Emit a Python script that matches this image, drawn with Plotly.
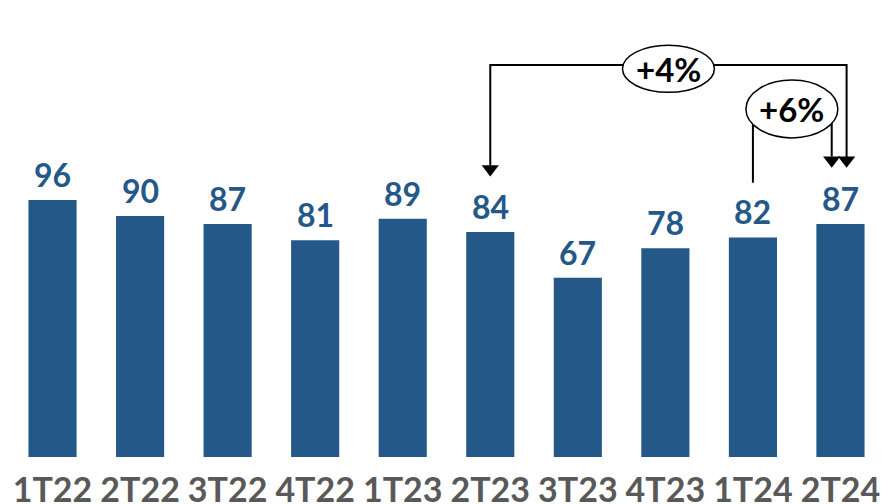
import plotly.graph_objects as go

categories = ["1T22", "2T22", "3T22", "4T22", "1T23", "2T23", "3T23", "4T23", "1T24", "2T24"]
values = [96, 90, 87, 81, 89, 84, 67, 78, 82, 87]
growth_labels = ["+4%", "+6%"]

BAR = "#245889"
GRAY = "#595959"
FONT = "Lato"

fig = go.Figure()
fig.add_trace(go.Bar(
    x=list(range(len(categories))), y=values, width=0.55,
    marker=dict(color=BAR, line=dict(width=0)),
    hoverinfo="skip",
))
for i, v in enumerate(values):
    fig.add_annotation(x=i, y=v, text=str(v), showarrow=False, yanchor="bottom", yshift=4,
                       font=dict(family=FONT, size=32, color=BAR, weight=700))

i_a = categories.index("2T23")
i_b = categories.index("1T24")
i_c = categories.index("2T24")
line = dict(color="black", width=2)

# +4% bracket
y_top4 = 146.4
tip4 = 105.0
xr4 = i_c + 0.07
fig.add_shape(type="path", path=f"M {i_a} {tip4+4} L {i_a} {y_top4} L {xr4} {y_top4} L {xr4} {tip4+4}", line=line)
# +6% bracket
y_top6 = 129
tip6 = 108.2
xr6 = i_c - 0.1
fig.add_shape(type="path", path=f"M {i_b} {values[i_b]+20.4} L {i_b} {y_top6} L {xr6} {y_top6} L {xr6} {tip6+4}", line=line)

# arrowheads
fig.add_trace(go.Scatter(
    x=[i_a, xr4, xr6], y=[tip4 + 2.6, tip6 + 2.6, tip6 + 2.6], mode="markers",
    marker=dict(symbol="triangle-down", size=15, color="black"), hoverinfo="skip", cliponaxis=False,
))

# ellipses
fig.add_shape(type="circle", x0=6.51, x1=7.56, y0=136.2, y1=153.8,
              fillcolor="white", line=dict(color="black", width=1.5), layer="above")
fig.add_shape(type="circle", x0=7.92, x1=8.97, y0=119.2, y1=140.8,
              fillcolor="white", line=dict(color="black", width=1.5), layer="above")

fig.add_annotation(x=7.035, y=145, text=growth_labels[0], showarrow=False,
                   font=dict(family=FONT, size=33, color="black", weight=700))
fig.add_annotation(x=8.445, y=130, text=growth_labels[1], showarrow=False,
                   font=dict(family=FONT, size=33, color="black", weight=700))

fig.update_layout(
    width=893, height=504, margin=dict(l=0, r=0, t=0, b=47, autoexpand=False),
    paper_bgcolor="white", plot_bgcolor="white", showlegend=False,
    xaxis=dict(range=[-0.6, 9.6], tickmode="array", tickvals=list(range(len(categories))),
               ticktext=categories, showgrid=False, zeroline=False, showline=False, automargin=False,
               tickfont=dict(family=FONT, size=34, color=GRAY, weight=700), ticklabelstandoff=10),
    yaxis=dict(range=[0, 170.7], visible=False, showgrid=False, zeroline=False, automargin=False),
)
fig.write_html("out.html", config={"displayModeBar": False},
               post_script="document.body.style.margin='0';document.body.style.overflow='hidden';")
